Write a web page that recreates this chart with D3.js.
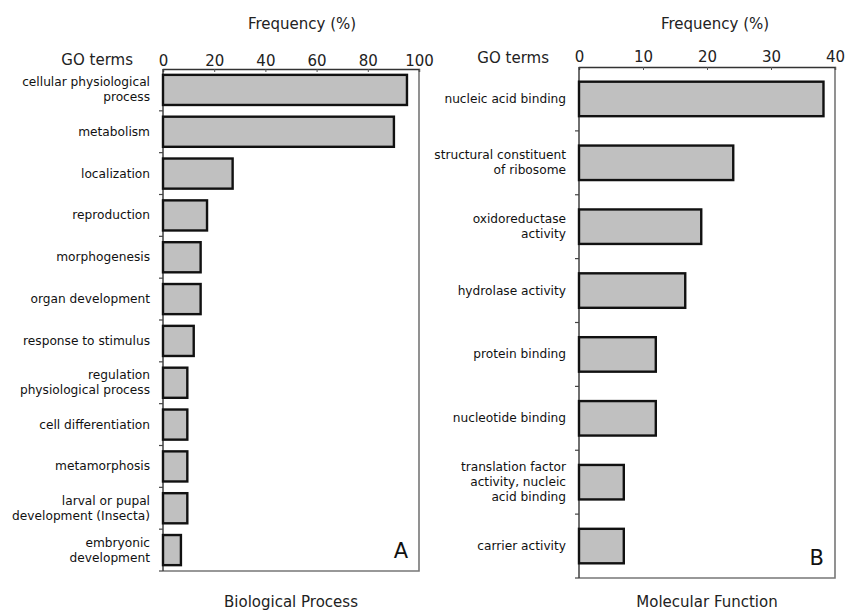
<!DOCTYPE html>
<html><head><meta charset="utf-8">
<script src="https://cdn.jsdelivr.net/npm/d3@7"></script>
<style>
body{margin:0;background:#fff;}
svg{display:block;font-family:"DejaVu Sans",Verdana,sans-serif;}
</style></head>
<body><svg id="c" width="845" height="610"></svg>
<script>
const bpTerms = ["cellular physiological\nprocess","metabolism","localization","reproduction","morphogenesis","organ development","response to stimulus","regulation\nphysiological process","cell differentiation","metamorphosis","larval or pupal\ndevelopment (Insecta)","embryonic\ndevelopment"];
const bpValues = [95.3, 90.2, 27.2, 17.2, 14.7, 14.7, 12.0, 9.5, 9.5, 9.5, 9.5, 7.0];
const bpTicks = [0,20,40,60,80,100];

const mfTerms = ["nucleic acid binding","structural constituent\nof ribosome","oxidoreductase\nactivity","hydrolase activity","protein binding","nucleotide binding","translation factor\nactivity, nucleic\nacid binding","carrier activity"];
const mfValues = [38.2, 24.1, 19.1, 16.6, 12.0, 12.0, 7.0, 7.0];
const mfTicks = [0,10,20,30,40];

const svg = d3.select("#c");

function panel(cfg){
  const g = svg.append("g");
  const x = d3.scaleLinear().domain(cfg.domain).range([cfg.x0, cfg.x1]);
  const y = d3.scaleBand().domain(cfg.terms).range([cfg.y0, cfg.y1])
     .paddingInner(cfg.pad).paddingOuter(cfg.pad/2);
  // frame right & bottom
  g.append("path")
    .attr("d", `M${cfg.x1},${cfg.y0}V${cfg.y1}H${cfg.x0}`)
    .attr("fill","none").attr("stroke","#777").attr("stroke-width",1.6);
  // top axis
  const ax = g.append("g").attr("transform",`translate(0,${cfg.y0})`)
    .call(d3.axisTop(x).tickValues(cfg.ticks).tickSize(-3).tickPadding(cfg.tp));
  ax.select(".domain").attr("stroke","#333").attr("stroke-width",1.4);
  ax.selectAll(".tick line").attr("stroke","#555");
  ax.selectAll("text").attr("font-size",15).attr("fill","#222")
    .attr("font-family","DejaVu Sans, sans-serif");
  // left axis line
  g.append("line").attr("x1",cfg.x0).attr("x2",cfg.x0).attr("y1",cfg.y0).attr("y2",cfg.y1)
    .attr("stroke","#333").attr("stroke-width",1.4);
  // boundary ticks
  const off = y.step()*y.paddingInner()/2;
  g.selectAll(".bt").data(cfg.terms.slice(1).concat([null])).enter().append("line")
    .attr("x1",cfg.x0-4).attr("x2",cfg.x0)
    .attr("y1",d=> d===null ? cfg.y1 : y(d)-off)
    .attr("y2",d=> d===null ? cfg.y1 : y(d)-off)
    .attr("stroke","#444").attr("stroke-width",1.2);
  // bars
  g.selectAll(".bar").data(cfg.terms).enter().append("rect")
    .attr("x",x(0)).attr("y",d=>y(d))
    .attr("width",(d,i)=>x(cfg.values[i])-x(0))
    .attr("height",y.bandwidth())
    .attr("fill","#c0c0c0").attr("stroke","#111").attr("stroke-width",2.4);
  // category labels
  cfg.terms.forEach(t=>{
    const lines = t.split("\n");
    const lh = 15;
    const cy = y(t)+y.bandwidth()/2;
    const txt = g.append("text").attr("text-anchor","end").attr("font-size",12.2)
      .attr("fill","#111");
    lines.forEach((l,i)=>{
      txt.append("tspan").attr("x",cfg.x0-13)
        .attr("y", cy + (i-(lines.length-1)/2)*lh + 4).text(l);
    });
  });
  // titles
  g.append("text").attr("x",(cfg.x0+cfg.x1)/2+cfg.tdx).attr("y",cfg.fy)
    .attr("text-anchor","middle").attr("font-size",15).attr("fill","#222").text("Frequency (%)");
  g.append("text").attr("x",cfg.x0-30).attr("y",cfg.gy)
    .attr("text-anchor","end").attr("font-size",15).attr("fill","#222").text("GO terms");
  g.append("text").attr("x",(cfg.x0+cfg.x1)/2).attr("y",607)
    .attr("text-anchor","middle").attr("font-size",15).attr("fill","#222").text(cfg.bottom);
  g.append("text").attr("x",cfg.x1-11).attr("y",cfg.y1-13)
    .attr("text-anchor","end").attr("font-size",21).attr("fill","#111").text(cfg.letter);
}

panel({terms:bpTerms, values:bpValues, ticks:bpTicks, domain:[0,100],
  x0:163, x1:419, y0:69, y1:571, pad:0.28, tdx:11, tp:3, fy:29, gy:65,
  bottom:"Biological Process", letter:"A"});
panel({terms:mfTerms, values:mfValues, ticks:mfTicks, domain:[0,40],
  x0:579, x1:835, y0:67, y1:578, pad:0.46, tdx:8, tp:5, fy:29, gy:63,
  bottom:"Molecular Function", letter:"B"});
</script></body></html>
